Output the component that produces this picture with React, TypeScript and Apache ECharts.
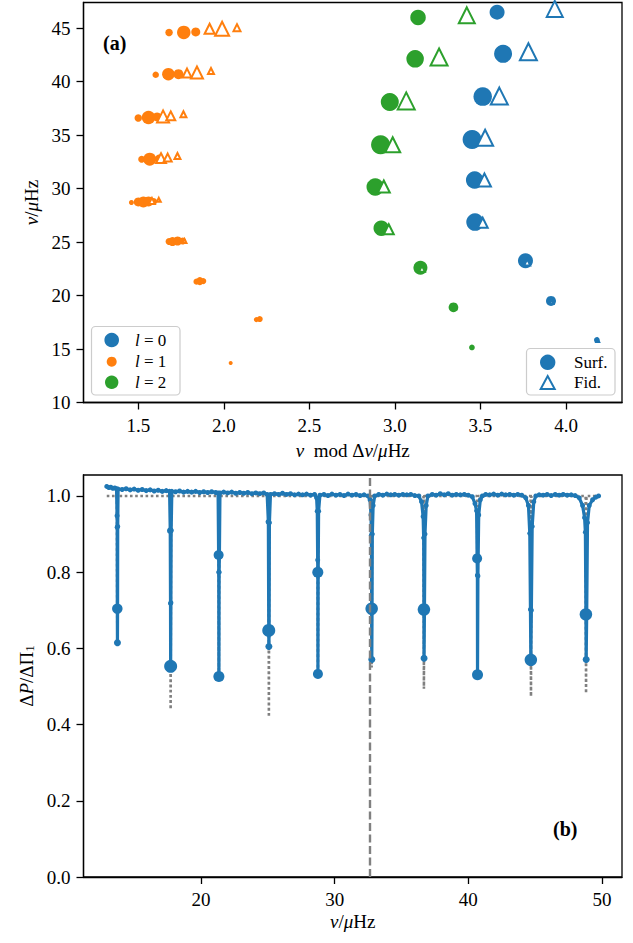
import React, { useEffect, useRef } from "react";
import * as echarts from "echarts";

const BLUE = "#1f77b4";
const ORANGE = "#ff7f0e";
const GREEN = "#2ca02c";
const GRAY = "#808080";
const FONT = "'Liberation Serif', 'DejaVu Serif', serif";

// ---------- Panel (a): echelle diagram  [nu mod dnu, nu, amplitude] ----------
const l0Surf = [
  [3.597, 46.5, 15], [3.632, 42.6, 18], [3.513, 38.6, 18.5], [3.451, 34.6, 19],
  [3.466, 30.8, 17.5], [3.468, 26.87, 17.5], [3.763, 23.25, 15], [3.912, 19.5, 10],
  [4.18, 15.85, 5.7],
];
const l0Fid = [
  [3.934, 46.8, 16], [3.78, 42.8, 17], [3.61, 38.65, 17], [3.527, 34.75, 16],
  [3.523, 30.8, 13], [3.513, 26.8, 10], [3.773, 23.1, 6], [3.915, 19.4, 4],
  [4.185, 15.8, 3],
];
const l2Surf = [
  [3.135, 46.0, 15.5], [3.118, 42.13, 17.5], [2.97, 38.1, 18], [2.916, 34.1, 19],
  [2.885, 30.15, 17.5], [2.92, 26.3, 15.5], [3.149, 22.6, 14], [3.342, 18.9, 9.7],
  [3.45, 15.15, 5.7],
];
const l2Fid = [
  [3.42, 46.2, 16], [3.258, 42.3, 17], [3.066, 38.2, 17], [2.987, 34.1, 15],
  [2.935, 30.2, 12], [2.964, 26.2, 10], [3.158, 22.5, 6], [3.35, 18.85, 3],
];
const l1Surf = [
  [1.68, 44.6, 7.5], [1.766, 44.6, 13.5], [1.836, 44.65, 9],
  [1.602, 40.65, 6.5], [1.676, 40.7, 12.5], [1.735, 40.7, 10],
  [1.5, 36.6, 7.5], [1.56, 36.65, 13.5], [1.61, 36.7, 9],
  [1.52, 32.75, 7], [1.567, 32.75, 13], [1.62, 32.8, 8],
  [1.46, 28.7, 5], [1.5, 28.75, 9], [1.53, 28.75, 11], [1.56, 28.8, 10], [1.59, 28.8, 7],
  [1.68, 25.05, 7], [1.7, 25.05, 9], [1.73, 25.1, 9], [1.76, 25.1, 7],
  [1.84, 21.3, 6], [1.86, 21.35, 8], [1.88, 21.35, 6],
  [2.19, 17.75, 5], [2.21, 17.8, 6],
  [2.04, 13.7, 4],
];
const l1Fid = [
  [1.917, 44.95, 10], [1.99, 44.95, 14], [2.077, 45.05, 7],
  [1.785, 40.8, 9], [1.843, 40.85, 12], [1.925, 41.0, 6],
  [1.645, 36.75, 12], [1.69, 36.8, 9], [1.764, 36.95, 6],
  [1.633, 32.85, 10], [1.672, 32.9, 8], [1.729, 33.05, 6],
  [1.58, 28.85, 6], [1.62, 28.95, 4],
  [1.77, 25.1, 4],
];
const xTicksA = [1.5, 2.0, 2.5, 3.0, 3.5, 4.0];
const yTicksA = [10, 15, 20, 25, 30, 35, 40, 45];

// ---------- Panel (b): period spacing  [nu, dP/dPi1] ----------
const dpLine = [
  [12.95, 1.025], [13.1, 1.022], [13.25, 1.023], [13.4, 1.02], [13.55, 1.021], [13.68, 1.019],
  [13.72, 0.948], [13.73, 0.918], [13.74, 0.704], [13.75, 0.615], [13.76, 0.7], [13.77, 0.92], [13.8, 1.018],
  [14.1, 1.017], [14.4, 1.019], [14.7, 1.016], [15.0, 1.018], [15.3, 1.015], [15.6, 1.017], [15.9, 1.014],
  [16.2, 1.016], [16.5, 1.013], [16.8, 1.015], [17.1, 1.012], [17.4, 1.014], [17.65, 1.012],
  [17.7, 0.909], [17.72, 0.718], [17.73, 0.553], [17.75, 0.72], [17.77, 0.91], [17.82, 1.012],
  [18.1, 1.011], [18.4, 1.013], [18.7, 1.01], [19.0, 1.012], [19.3, 1.01], [19.6, 1.012], [19.9, 1.009],
  [20.2, 1.011], [20.5, 1.009], [20.8, 1.011], [21.1, 1.009], [21.28, 1.008],
  [21.32, 0.845], [21.33, 0.8], [21.34, 0.526], [21.36, 0.8], [21.38, 0.85], [21.42, 1.008],
  [21.7, 1.01], [22.0, 1.008], [22.3, 1.01], [22.6, 1.007], [22.9, 1.009], [23.2, 1.007], [23.5, 1.009],
  [23.8, 1.006], [24.1, 1.008], [24.4, 1.006], [24.7, 1.008], [24.95, 1.004],
  [25.04, 0.932], [25.07, 0.647], [25.08, 0.605], [25.1, 0.65], [25.12, 0.93], [25.2, 1.004],
  [25.5, 1.006], [25.8, 1.004], [26.1, 1.007], [26.4, 1.004], [26.7, 1.006], [27.0, 1.003], [27.3, 1.005],
  [27.6, 1.003], [27.9, 1.005], [28.2, 1.002], [28.5, 1.004], [28.65, 0.995],
  [28.7, 0.96], [28.73, 0.832], [28.74, 0.8], [28.75, 0.533], [28.77, 0.8], [28.8, 0.96], [28.9, 1.002],
  [29.2, 1.004], [29.5, 1.001], [29.8, 1.005], [30.1, 1.002], [30.4, 1.004], [30.7, 1.001], [31.0, 1.005],
  [31.3, 1.002], [31.6, 1.004], [31.9, 1.001], [32.2, 1.003], [32.5, 1.0], [32.65, 0.99],
  [32.72, 0.95], [32.75, 0.897], [32.77, 0.704], [32.78, 0.571], [32.8, 0.7], [32.82, 0.9], [32.88, 0.975], [33.0, 1.0],
  [33.3, 1.004], [33.6, 1.002], [33.9, 1.005], [34.2, 1.003], [34.5, 1.004], [34.8, 1.002], [35.1, 1.004],
  [35.4, 1.003], [35.7, 1.004], [36.0, 1.001], [36.3, 1.0],
  [36.5, 0.985], [36.62, 0.946], [36.66, 0.89], [36.68, 0.702], [36.69, 0.574], [36.72, 0.7], [36.76, 0.9],
  [36.85, 0.975], [36.98, 1.0],
  [37.3, 1.004], [37.6, 1.002], [37.9, 1.006], [38.2, 1.003], [38.5, 1.006], [38.8, 1.002], [39.1, 1.004],
  [39.4, 1.003], [39.7, 1.004], [40.0, 1.002], [40.3, 0.998],
  [40.5, 0.98], [40.62, 0.961], [40.66, 0.836], [40.68, 0.792], [40.69, 0.531], [40.72, 0.79], [40.78, 0.95],
  [40.9, 0.99], [41.05, 1.0],
  [41.3, 1.004], [41.6, 1.003], [41.9, 1.005], [42.2, 1.002], [42.5, 1.005], [42.8, 1.003], [43.1, 1.004],
  [43.4, 1.002], [43.7, 1.004], [44.0, 1.002], [44.3, 0.995],
  [44.5, 0.975], [44.6, 0.902], [44.65, 0.702], [44.68, 0.57], [44.72, 0.7], [44.78, 0.92], [44.9, 0.985], [45.05, 1.0],
  [45.3, 1.003], [45.6, 1.002], [45.9, 1.004], [46.2, 1.001], [46.5, 1.004], [46.8, 1.002], [47.1, 1.004],
  [47.4, 1.002], [47.7, 1.003], [48.0, 1.001], [48.3, 0.995], [48.55, 0.975],
  [48.7, 0.943], [48.76, 0.905], [48.8, 0.689], [48.82, 0.571], [48.86, 0.69], [48.92, 0.93], [49.05, 0.975],
  [49.3, 0.99], [49.55, 0.997], [49.75, 1.0],
];
// mode points shown with larger markers [nu, dP/dPi1, amplitude]
const dpModes = [
  [13.74, 0.704, 10.5], [13.75, 0.615, 7],
  [17.7, 0.909, 6.5], [17.73, 0.553, 13],
  [21.32, 0.845, 10], [21.34, 0.526, 11],
  [25.04, 0.932, 5.5], [25.07, 0.647, 13], [25.08, 0.605, 7],
  [28.74, 0.8, 11], [28.75, 0.533, 10],
  [32.77, 0.704, 12.5], [32.78, 0.571, 7],
  [36.68, 0.702, 12.5], [36.69, 0.574, 7],
  [40.66, 0.836, 10], [40.69, 0.531, 11],
  [44.68, 0.57, 12.5],
  [48.8, 0.689, 12.5], [48.82, 0.571, 7],
];
// fiducial (dotted) curve
const dpTheory = [
  [12.95, 1.0],
  [13.71, 1.0], [13.74, 0.62], [13.77, 1.0],
  [17.7, 1.0], [17.73, 0.44], [17.76, 1.0],
  [21.31, 1.0], [21.34, 0.53], [21.37, 1.0],
  [25.05, 1.0], [25.08, 0.42], [25.11, 1.0],
  [28.72, 1.0], [28.75, 0.54], [28.78, 1.0],
  [32.74, 1.0], [32.77, 0.55], [32.8, 1.0],
  [36.65, 1.0], [36.68, 0.494], [36.71, 1.0],
  [40.66, 1.0], [40.69, 0.53], [40.72, 1.0],
  [44.66, 1.0], [44.69, 0.474], [44.72, 1.0],
  [48.78, 1.0], [48.81, 0.482], [48.84, 1.0],
  [49.8, 1.0],
];
const numax = 32.6;
const xTicksB = [20, 30, 40, 50];
const yTicksB = [0, 0.2, 0.4, 0.6, 0.8, 1.0];

const tickFont = { fontFamily: FONT, fontSize: 19, color: "#000" };
const nameStyle = {
  fontFamily: FONT,
  fontSize: 19,
  color: "#000",
  rich: {
    i: { fontFamily: FONT, fontSize: 19, fontStyle: "italic", color: "#000" },
    s: { fontFamily: FONT, fontSize: 13, color: "#000", verticalAlign: "bottom", lineHeight: 12 },
  },
};
const axLine = { onZero: false, lineStyle: { color: "#000", width: 1.3 } };

function axis(grid: number, min: number, max: number, ticks: number[], digits: number, extra: any) {
  return {
    type: "value",
    gridIndex: grid,
    min,
    max,
    axisLine: axLine,
    axisTick: { show: true, length: 7, customValues: ticks, lineStyle: { color: "#000", width: 1.3 } },
    axisLabel: {
      ...tickFont,
      margin: 13,
      customValues: ticks,
      formatter: (v: number) => v.toFixed(digits),
    },
    splitLine: { show: false },
    nameLocation: "middle",
    nameTextStyle: nameStyle,
    ...extra,
  };
}

const sz = (v: number[]) => v[2];

export default function App() {
  const ref = useRef<HTMLDivElement>(null);
  useEffect(() => {
    document.body.style.margin = "0";
    const chart = echarts.init(ref.current!, null, { renderer: "svg" });
    const circle = (name: string, data: number[][], color: string, xi: number) => ({
      name, type: "scatter", xAxisIndex: xi, yAxisIndex: xi, data, symbol: "circle",
      symbolSize: sz, itemStyle: { color, opacity: 1 }, z: 3, clip: true,
    });
    const tri = (name: string, data: number[][], color: string) => ({
      name, type: "scatter", xAxisIndex: 0, yAxisIndex: 0, data, symbol: "triangle",
      symbolSize: sz, itemStyle: { color: "#fff", borderColor: color, borderWidth: 2, opacity: 1 },
      z: 4, clip: true,
    });
    const legendText = (t: string, x: number, y: number) => ({
      type: "text", x, y, z: 101,
      style: {
        text: t, fontFamily: FONT, fontSize: 17, fill: "#000", verticalAlign: "middle",
        rich: { i: { fontFamily: FONT, fontSize: 17, fontStyle: "italic", fill: "#000" } },
      },
    });
    chart.setOption({
      animation: false,
      backgroundColor: "#fff",
      grid: [
        { left: 83.5, top: 2.5, width: 538.5, height: 400, show: true, borderColor: "#000", borderWidth: 1.3 },
        { left: 83.5, top: 475, width: 538.5, height: 402, show: true, borderColor: "#000", borderWidth: 1.3 },
      ],
      xAxis: [
        axis(0, 1.18, 4.327, xTicksA, 1, { name: "{i|ν}  mod Δ{i|ν}/{i|μ}Hz", nameGap: 38 }),
        axis(1, 11.21, 51.5, xTicksB, 0, { name: "{i|ν}/{i|μ}Hz", nameGap: 35 }),
      ],
      yAxis: [
        axis(0, 10, 47.4, yTicksA, 0, { name: "{i|ν}/{i|μ}Hz", nameGap: 42 }),
        axis(1, 0, 1.055, yTicksB, 1, { name: "Δ{i|P}/ΔΠ{s|1}", nameGap: 42 }),
      ],
      series: [
        circle("l = 1 Surf.", l1Surf, ORANGE, 0),
        tri("l = 1 Fid.", l1Fid, ORANGE),
        circle("l = 2 Surf.", l2Surf, GREEN, 0),
        tri("l = 2 Fid.", l2Fid, GREEN),
        circle("l = 0 Surf.", l0Surf, BLUE, 0),
        tri("l = 0 Fid.", l0Fid, BLUE),
        {
          name: "fiducial", type: "line", xAxisIndex: 1, yAxisIndex: 1, data: dpTheory,
          showSymbol: false, lineStyle: { color: GRAY, width: 2.6, type: [2.6, 2.6] }, z: 1,
          markLine: {
            silent: true, symbol: ["none", "none"], label: { show: false },
            lineStyle: { color: GRAY, width: 2.4, type: [8, 3.5] },
            data: [{ xAxis: numax }],
          },
        },
        {
          name: "dP", type: "line", xAxisIndex: 1, yAxisIndex: 1, data: dpLine,
          showSymbol: true, symbol: "circle", symbolSize: 5,
          itemStyle: { color: BLUE }, lineStyle: { color: BLUE, width: 3.2 }, z: 2,
        },
        circle("modes", dpModes, BLUE, 1),
      ],
      graphic: [
        { type: "text", x: 103, y: 43, z: 101, style: { text: "(a)", fontFamily: FONT, fontSize: 20, fontWeight: "bold", fill: "#000", verticalAlign: "middle" } },
        { type: "text", x: 553, y: 829, z: 101, style: { text: "(b)", fontFamily: FONT, fontSize: 20, fontWeight: "bold", fill: "#000", verticalAlign: "middle" } },
        { type: "rect", z: 100, shape: { x: 91.5, y: 326.5, width: 88.5, height: 68.5, r: 4 }, style: { fill: "rgba(255,255,255,0.8)", stroke: "#cccccc", lineWidth: 1.2 } },
        { type: "circle", z: 101, shape: { cx: 111.7, cy: 340, r: 7.3 }, style: { fill: BLUE } },
        { type: "circle", z: 101, shape: { cx: 111.7, cy: 361.7, r: 5 }, style: { fill: ORANGE } },
        { type: "circle", z: 101, shape: { cx: 111.7, cy: 382.3, r: 6.7 }, style: { fill: GREEN } },
        legendText("{i|l} = 0", 135, 340),
        legendText("{i|l} = 1", 135, 361.7),
        legendText("{i|l} = 2", 135, 382.3),
        { type: "rect", z: 100, shape: { x: 526.5, y: 348.5, width: 88.5, height: 46.5, r: 4 }, style: { fill: "rgba(255,255,255,0.8)", stroke: "#cccccc", lineWidth: 1.2 } },
        { type: "circle", z: 101, shape: { cx: 547.7, cy: 362.3, r: 7.7 }, style: { fill: BLUE } },
        { type: "polygon", z: 101, shape: { points: [[547.7, 376], [540.7, 389], [554.7, 389]] }, style: { fill: "#fff", stroke: BLUE, lineWidth: 2 } },
        legendText("Surf.", 574, 362.3),
        legendText("Fid.", 574, 382.7),
      ],
    });
    return () => chart.dispose();
  }, []);
  return <div ref={ref} style={{ width: 633, height: 943 }} />;
}
